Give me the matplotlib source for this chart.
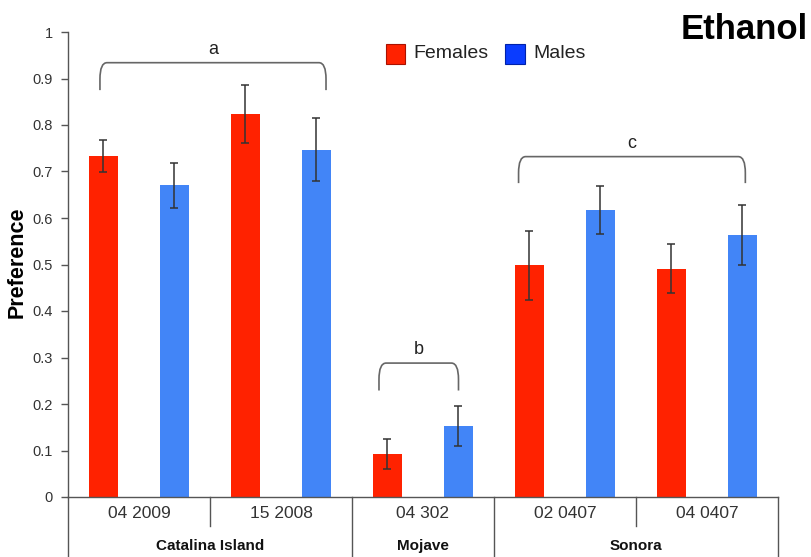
import matplotlib.pyplot as plt
import matplotlib.transforms as mtransforms
from matplotlib.patches import Rectangle, PathPatch
from matplotlib.path import Path
import numpy as np

plt.rcParams['font.family'] = ['Liberation Sans', 'DejaVu Sans']

# Preference per population, females vs males, with standard errors
populations = ['04 2009', '15 2008', '04 302', '02 0407', '04 0407']
regions = ['Catalina Island', 'Mojave', 'Sonora']
region_sizes = [2, 1, 2]
females = [0.733, 0.824, 0.092, 0.498, 0.491]
females_err = [0.035, 0.063, 0.032, 0.074, 0.053]
males = [0.670, 0.747, 0.153, 0.617, 0.563]
males_err = [0.049, 0.067, 0.043, 0.052, 0.065]

# significance groups: label, x span, bracket top, bracket ends
groups = [('a', -0.275, 1.317, 0.934, 0.875),
          ('b', 1.69, 2.25, 0.288, 0.229),
          ('c', 2.673, 4.27, 0.732, 0.675)]

red = '#ff2200'
blue = '#4285f7'
ink = '#333333'

fig = plt.figure(figsize=(8.12, 5.57), dpi=100)
ax = fig.add_axes([68 / 812, 1 - 497 / 557, 710 / 812, 465 / 557])

x = np.arange(len(populations))
w = 0.21
ax.bar(x - 0.25, females, w, color=red, zorder=2)
ax.bar(x + 0.25, males, w, color=blue, zorder=2)
ekw = dict(fmt='none', ecolor=ink, elinewidth=1.1, capsize=3, capthick=1.1, zorder=3)
ax.errorbar(x - 0.25, females, yerr=females_err, **ekw)
ax.errorbar(x + 0.25, males, yerr=males_err, **ekw)

ax.set_xlim(-0.5, len(populations) - 0.5)
ax.set_ylim(0, 1)
ax.set_yticks(np.arange(0, 1.01, 0.1))
ax.set_yticklabels(['0'] + ['%.1f' % v for v in np.arange(0.1, 0.95, 0.1)] + ['1'])
ax.tick_params(axis='y', direction='out', length=5, width=1, color='#555555',
               labelsize=10.5, labelcolor=ink, pad=6)
ax.set_xticks([])
for s in ['top', 'right']:
    ax.spines[s].set_visible(False)
for s in ['left', 'bottom']:
    ax.spines[s].set_color('#555555')
    ax.spines[s].set_linewidth(1)

ax.set_ylabel('Preference', fontsize=15.5, fontweight='bold')
ax.yaxis.set_label_coords(-0.057, 0.505)

# two-level category axis below the bars
trans = mtransforms.blended_transform_factory(ax.transData, ax.transAxes)
for i, p in enumerate(populations):
    ax.text(i, -0.036, p, transform=trans, ha='center', va='center',
            fontsize=12.5, color=ink)
bounds = np.cumsum([0] + region_sizes) - 0.5
for i in range(len(populations) + 1):
    xb = i - 0.5
    ybot = -0.129 if xb in bounds else -0.062
    ax.plot([xb, xb], [0, ybot], transform=trans, color='#555555', lw=1,
            clip_on=False)
for r, lo, hi in zip(regions, bounds[:-1], bounds[1:]):
    ax.text((lo + hi) / 2, -0.106, r, transform=trans, ha='center', va='center',
            fontsize=11, fontweight='bold', color='#111111')

# significance brackets with rounded corners
for lab, x0, x1, top, end in groups:
    r = 0.035
    dx = 0.05
    verts = [(x0, end), (x0, top - r), (x0, top), (x0 + dx, top),
             (x1 - dx, top), (x1, top), (x1, top - r), (x1, end)]
    codes = [Path.MOVETO, Path.LINETO, Path.CURVE3, Path.CURVE3,
             Path.LINETO, Path.CURVE3, Path.CURVE3, Path.LINETO]
    ax.add_patch(PathPatch(Path(verts, codes), fill=False, edgecolor='#666666',
                           lw=1.2, clip_on=False))
    ax.text((x0 + x1) / 2, top + 0.029, lab, ha='center', va='center',
            fontsize=13, color='#222222')

# legend drawn by hand
fig.add_artist(Rectangle((386 / 812, 1 - 64 / 557), 19 / 812, 20 / 557,
                         transform=fig.transFigure, facecolor=red, edgecolor='#aa1100', lw=0.8))
fig.text(413 / 812, 1 - 54 / 557, 'Females', fontsize=14, va='center', color='#222222')
fig.add_artist(Rectangle((505 / 812, 1 - 64 / 557), 20 / 812, 20 / 557,
                         transform=fig.transFigure, facecolor='#0a3cff', edgecolor='#0022aa', lw=0.8))
fig.text(533 / 812, 1 - 54 / 557, 'Males', fontsize=14, va='center', color='#222222')

fig.text(808 / 812, 1 - 39 / 557, 'Ethanol', fontsize=25, fontweight='bold',
         ha='right', va='baseline')

fig.savefig('out.png', dpi=100)
